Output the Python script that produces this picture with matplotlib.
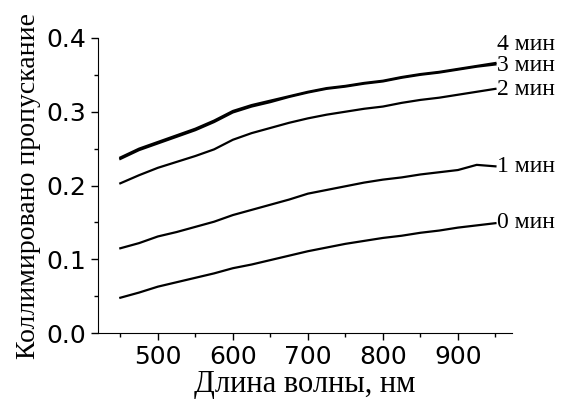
import numpy as np
import matplotlib.pyplot as plt

# wavelength grid, nm
wavelength = [450, 475, 500, 525, 550, 575, 600, 625, 650, 675, 700,
              725, 750, 775, 800, 825, 850, 875, 900, 925, 950]

# collimated transmittance after N minutes
t0 = [0.048, 0.055, 0.063, 0.069, 0.075, 0.081, 0.088, 0.093, 0.099, 0.105, 0.111,
      0.116, 0.121, 0.125, 0.129, 0.132, 0.136, 0.139, 0.143, 0.146, 0.149]
t1 = [0.115, 0.122, 0.131, 0.137, 0.144, 0.151, 0.160, 0.167, 0.174, 0.181, 0.189,
      0.194, 0.199, 0.204, 0.208, 0.211, 0.215, 0.218, 0.221, 0.228, 0.226]
t2 = [0.203, 0.214, 0.224, 0.232, 0.240, 0.249, 0.262, 0.271, 0.278, 0.285, 0.291,
      0.296, 0.300, 0.304, 0.307, 0.312, 0.316, 0.319, 0.323, 0.327, 0.331]
t3 = [0.236, 0.248, 0.257, 0.266, 0.275, 0.286, 0.299, 0.307, 0.313, 0.320, 0.326,
      0.331, 0.334, 0.338, 0.341, 0.346, 0.350, 0.353, 0.357, 0.361, 0.364]
t4 = [0.238, 0.250, 0.259, 0.268, 0.277, 0.288, 0.301, 0.309, 0.315, 0.321, 0.327,
      0.332, 0.335, 0.339, 0.342, 0.347, 0.351, 0.354, 0.358, 0.362, 0.366]

labels = ['0 мин', '1 мин', '2 мин', '3 мин', '4 мин']
label_y = [0.150, 0.226, 0.330, 0.362, 0.391]

fig = plt.figure(figsize=(5.72, 3.99), dpi=100)
ax = fig.add_axes([0.171, 0.165, 0.724, 0.740])

for t in [t0, t1, t2, t3, t4]:
    ax.plot(wavelength, t, color='black', lw=1.6)

for lab, y in zip(labels, label_y):
    ax.text(952, y, lab, fontsize=17, family='Liberation Serif',
            va='center', ha='left', clip_on=False)

ax.set_xlim(420, 972)
ax.set_ylim(0, 0.4)
ax.set_xticks([500, 600, 700, 800, 900])
ax.set_xticks(np.arange(450, 1000, 100), minor=True)
ax.set_yticks([0.0, 0.1, 0.2, 0.3, 0.4])
ax.set_yticks([0.05, 0.15, 0.25, 0.35], minor=True)
ax.set_yticklabels(['0.0', '0.1', '0.2', '0.3', '0.4'])

for s in ['top', 'right']:
    ax.spines[s].set_visible(False)
ax.tick_params(which='major', direction='out', length=5, width=1, labelsize=18)
ax.tick_params(which='minor', direction='out', length=3, width=1)

ax.set_xlabel('Длина волны, нм', fontsize=22, family='Liberation Serif', labelpad=1)
ax.set_ylabel('Коллимировано пропускание', fontsize=20, family='Liberation Serif', labelpad=4)

fig.savefig('out.png', dpi=100)
